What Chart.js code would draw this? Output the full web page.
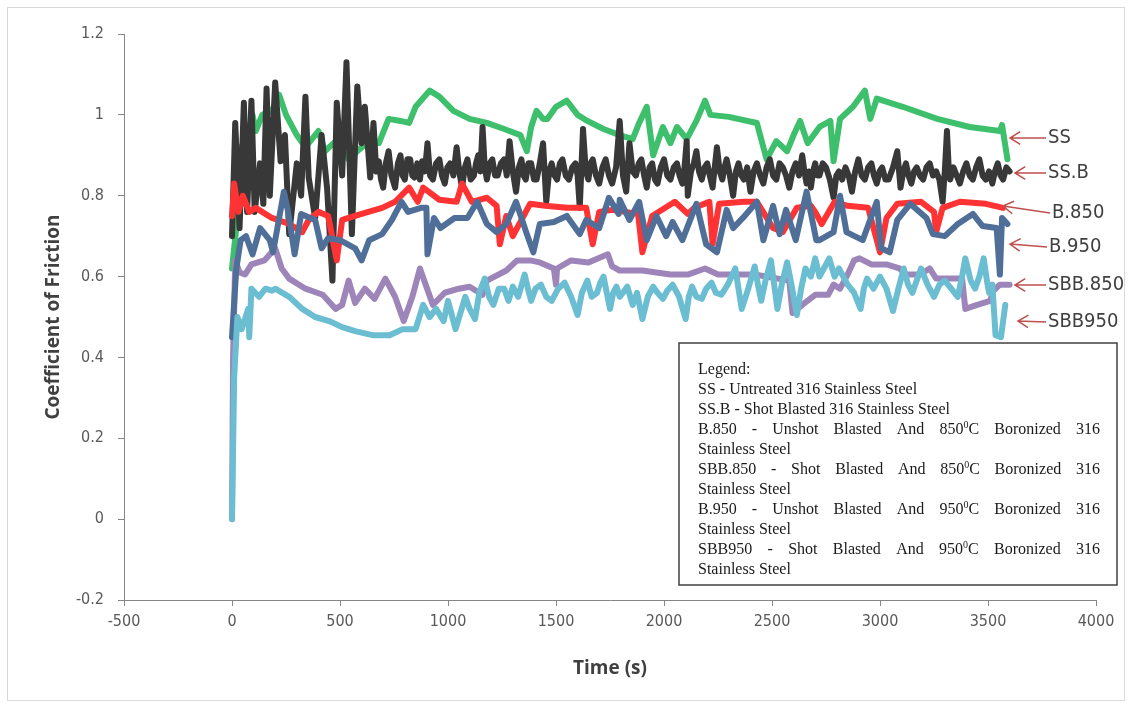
<!DOCTYPE html>
<html>
<head>
<meta charset="utf-8">
<script src="https://cdn.jsdelivr.net/npm/chart.js@4.4.1/dist/chart.umd.min.js"></script>
<style>
  html, body { margin: 0; padding: 0; background: #fff; }
  #wrap { width: 1131px; height: 708px; }
</style>
</head>
<body>
<div id="wrap"><canvas id="myChart" width="1131" height="708"></canvas></div>
<script>
// tiempo (s) y coeficiente de friccion
const tiempoSS = [0,20,35,50,65,80,95,110,140,185,218,250,300,340,370,400,430,470,495,540,580,635,680,725,780,820,850,915,960,1025,1100,1180,1260,1335,1365,1385,1410,1440,1460,1500,1550,1600,1645,1720,1795,1855,1885,1920,1950,1995,2030,2060,2105,2150,2190,2215,2300,2430,2475,2520,2570,2600,2630,2665,2720,2770,2785,2815,2875,2930,2955,2985,3105,3265,3415,3555,3565,3590]
const cofSS = [0.62,0.72,0.92,0.78,0.97,0.85,1.0,0.96,1.0,1.01,1.05,1.0,0.95,0.92,0.94,0.96,0.91,0.93,0.94,0.89,0.91,0.935,0.93,0.99,0.985,0.98,1.02,1.06,1.045,1.01,0.99,0.98,0.965,0.95,0.91,0.97,1.01,0.99,0.99,1.02,1.035,1.0,0.985,0.965,0.95,0.94,0.98,1.02,0.90,0.97,0.93,0.97,0.94,0.985,1.035,1.0,0.995,0.98,0.89,0.935,0.91,0.95,0.985,0.93,0.97,0.985,0.885,0.99,1.02,1.06,0.99,1.04,1.02,0.99,0.97,0.96,0.975,0.89]

const tiempoSSB = [0,15,35,55,70,90,105,130,145,160,175,200,225,245,265,300,320,340,355,385,415,440,465,485,510,530,555,580,600,615,640,655,668,680,690,700,712,725,738,755,768,780,790,800,812,825,835,845,858,870,880,893,905,917,930,945,960,972,985,997,1010,1025,1040,1052,1065,1078,1090,1105,1120,1130,1140,1150,1160,1170,1180,1193,1205,1218,1230,1245,1260,1272,1285,1300,1315,1328,1340,1350,1360,1372,1385,1398,1410,1425,1440,1455,1468,1480,1493,1505,1518,1530,1545,1560,1575,1590,1600,1610,1625,1638,1650,1660,1670,1685,1700,1715,1730,1745,1760,1778,1795,1810,1825,1840,1855,1870,1883,1895,1908,1920,1933,1945,1958,1970,1985,2000,2015,2030,2045,2060,2072,2085,2095,2105,2110,2125,2138,2150,2162,2175,2188,2200,2212,2225,2235,2245,2258,2270,2280,2290,2305,2320,2333,2345,2358,2370,2385,2400,2415,2430,2445,2460,2475,2490,2505,2520,2535,2550,2565,2580,2595,2610,2625,2640,2650,2660,2670,2680,2690,2700,2710,2720,2735,2750,2768,2785,2798,2810,2825,2840,2855,2870,2885,2900,2915,2930,2945,2960,2972,2985,2998,3010,3025,3040,3060,3080,3095,3108,3120,3132,3145,3158,3170,3185,3200,3215,3230,3245,3260,3275,3290,3300,3310,3318,3325,3340,3355,3370,3385,3400,3415,3430,3445,3460,3475,3490,3505,3520,3532,3545,3558,3570,3585,3600]
const cofSSB = [0.70,0.98,0.72,1.03,0.76,1.035,0.76,0.88,0.78,1.065,0.80,1.08,0.885,0.95,0.705,0.88,0.80,1.045,0.845,0.745,0.95,0.82,0.59,1.03,0.85,1.13,0.705,1.07,0.93,1.02,0.845,0.98,0.86,0.885,0.84,0.82,0.88,0.91,0.85,0.82,0.88,0.90,0.85,0.84,0.89,0.89,0.85,0.845,0.88,0.84,0.885,0.86,0.93,0.85,0.84,0.88,0.89,0.85,0.83,0.87,0.88,0.85,0.92,0.86,0.82,0.87,0.89,0.84,0.85,0.88,0.90,0.86,0.97,0.87,0.84,0.88,0.89,0.85,0.85,0.88,0.89,0.85,0.935,0.86,0.81,0.87,0.89,0.85,0.84,0.88,0.88,0.84,0.84,0.88,0.93,0.785,0.86,0.88,0.85,0.84,0.88,0.89,0.85,0.84,0.87,0.88,0.85,0.77,0.965,0.86,0.84,0.88,0.89,0.85,0.83,0.87,0.89,0.85,0.83,0.87,0.985,0.85,0.81,0.93,0.86,0.85,0.88,0.89,0.85,0.82,0.87,0.88,0.84,0.83,0.87,0.89,0.85,0.84,0.87,0.88,0.85,0.83,0.87,0.935,0.80,0.86,0.88,0.91,0.86,0.84,0.87,0.88,0.85,0.82,0.87,0.92,0.86,0.84,0.87,0.89,0.85,0.80,0.86,0.88,0.85,0.84,0.87,0.81,0.86,0.88,0.85,0.83,0.87,0.89,0.85,0.84,0.88,0.87,0.85,0.82,0.86,0.88,0.85,0.90,0.86,0.83,0.86,0.82,0.86,0.88,0.85,0.85,0.88,0.87,0.84,0.795,0.85,0.86,0.84,0.87,0.85,0.81,0.86,0.89,0.85,0.84,0.87,0.88,0.85,0.83,0.86,0.87,0.84,0.84,0.87,0.91,0.82,0.86,0.88,0.85,0.83,0.86,0.87,0.85,0.84,0.87,0.88,0.85,0.86,0.84,0.785,0.86,0.96,0.87,0.84,0.87,0.85,0.83,0.86,0.88,0.85,0.84,0.87,0.89,0.85,0.84,0.86,0.83,0.86,0.88,0.85,0.84,0.87,0.86]

const tiempoB850 = [0,10,30,50,80,110,185,265,325,355,400,445,485,510,600,695,755,820,860,885,960,1040,1065,1110,1180,1225,1240,1270,1300,1380,1450,1550,1640,1670,1700,1760,1880,1900,1945,2050,2110,2140,2210,2225,2255,2370,2430,2505,2550,2615,2680,2700,2730,2790,2850,2945,3000,3030,3080,3190,3250,3260,3290,3370,3490,3570]
const cofB850 = [0.75,0.83,0.76,0.80,0.76,0.77,0.745,0.73,0.71,0.74,0.76,0.75,0.64,0.74,0.755,0.77,0.785,0.82,0.785,0.82,0.79,0.785,0.83,0.785,0.795,0.775,0.68,0.75,0.70,0.78,0.775,0.77,0.77,0.68,0.76,0.765,0.755,0.66,0.75,0.785,0.755,0.77,0.785,0.68,0.78,0.785,0.785,0.72,0.71,0.77,0.775,0.76,0.73,0.785,0.775,0.77,0.66,0.745,0.78,0.785,0.76,0.71,0.77,0.785,0.78,0.77]

const tiempoB950 = [0,20,40,65,95,130,175,190,240,260,290,320,385,415,445,500,570,600,635,695,740,785,815,875,900,905,935,965,1030,1090,1135,1180,1225,1270,1315,1365,1395,1425,1490,1550,1610,1640,1700,1745,1790,1795,1840,1885,1920,1965,2010,2040,2085,2150,2195,2245,2290,2320,2365,2430,2460,2505,2535,2565,2610,2660,2705,2720,2785,2815,2845,2920,2985,3005,3045,3080,3140,3215,3245,3300,3360,3430,3475,3540,3555,3565,3590]
const cofB950 = [0.45,0.62,0.69,0.70,0.655,0.72,0.69,0.66,0.81,0.76,0.655,0.755,0.74,0.67,0.695,0.69,0.67,0.64,0.69,0.705,0.74,0.785,0.76,0.77,0.77,0.655,0.745,0.72,0.745,0.745,0.785,0.73,0.71,0.73,0.785,0.705,0.66,0.73,0.735,0.75,0.705,0.74,0.72,0.795,0.755,0.79,0.74,0.785,0.69,0.75,0.70,0.735,0.69,0.78,0.68,0.66,0.765,0.72,0.745,0.785,0.69,0.775,0.705,0.765,0.69,0.81,0.69,0.69,0.71,0.80,0.71,0.69,0.785,0.67,0.66,0.74,0.78,0.745,0.705,0.70,0.73,0.755,0.725,0.72,0.605,0.745,0.73]

const tiempoSBB850 = [0,5,15,35,60,90,150,200,230,265,340,420,480,510,540,570,615,660,710,755,795,835,870,930,985,1050,1100,1160,1180,1270,1320,1380,1425,1490,1500,1505,1570,1650,1740,1760,1795,1900,2030,2110,2190,2250,2420,2580,2595,2640,2700,2760,2785,2815,2850,2880,2905,2960,3030,3090,3120,3185,3230,3260,3330,3380,3395,3450,3510,3525,3555,3600]
const cofSBB850 = [0.0,0.40,0.64,0.61,0.605,0.63,0.64,0.67,0.62,0.595,0.57,0.555,0.52,0.53,0.59,0.535,0.57,0.545,0.595,0.55,0.49,0.55,0.62,0.53,0.56,0.57,0.575,0.555,0.59,0.615,0.64,0.64,0.635,0.62,0.58,0.62,0.64,0.635,0.655,0.625,0.615,0.615,0.605,0.605,0.62,0.605,0.605,0.59,0.51,0.53,0.555,0.555,0.58,0.57,0.605,0.64,0.645,0.63,0.63,0.62,0.605,0.605,0.62,0.595,0.595,0.595,0.52,0.53,0.54,0.565,0.58,0.58]

const tiempoSBB950 = [0,10,25,45,75,80,90,125,155,185,200,265,325,385,450,510,570,650,730,790,850,885,915,945,980,1000,1035,1080,1100,1125,1145,1170,1190,1210,1235,1260,1280,1300,1325,1355,1370,1385,1405,1430,1455,1480,1510,1540,1570,1600,1620,1645,1665,1690,1705,1720,1735,1750,1765,1780,1795,1810,1830,1855,1875,1900,1925,1950,1970,1995,2015,2040,2070,2100,2115,2130,2150,2175,2195,2220,2240,2265,2295,2330,2345,2360,2390,2420,2435,2450,2470,2495,2510,2525,2545,2570,2590,2615,2635,2655,2680,2700,2720,2740,2765,2790,2810,2830,2850,2880,2910,2925,2940,2970,3000,3030,3060,3085,3110,3130,3150,3170,3190,3220,3250,3275,3300,3330,3360,3380,3395,3420,3440,3460,3480,3495,3505,3520,3535,3560,3580]
const cofSBB950 = [0.0,0.35,0.50,0.47,0.52,0.45,0.57,0.55,0.57,0.565,0.57,0.55,0.52,0.50,0.49,0.475,0.465,0.455,0.455,0.47,0.47,0.53,0.50,0.52,0.49,0.54,0.47,0.55,0.52,0.495,0.56,0.595,0.55,0.53,0.57,0.57,0.54,0.575,0.55,0.605,0.57,0.54,0.57,0.58,0.55,0.54,0.57,0.585,0.55,0.505,0.56,0.59,0.55,0.56,0.585,0.60,0.56,0.52,0.56,0.575,0.55,0.56,0.575,0.53,0.56,0.495,0.55,0.575,0.56,0.545,0.565,0.58,0.55,0.495,0.55,0.575,0.55,0.545,0.57,0.585,0.56,0.555,0.58,0.62,0.57,0.52,0.57,0.625,0.58,0.54,0.59,0.64,0.58,0.52,0.58,0.635,0.58,0.505,0.57,0.62,0.60,0.645,0.60,0.62,0.645,0.60,0.62,0.60,0.58,0.56,0.52,0.57,0.595,0.57,0.60,0.57,0.515,0.57,0.62,0.58,0.56,0.59,0.62,0.58,0.55,0.58,0.59,0.57,0.55,0.60,0.645,0.59,0.57,0.60,0.645,0.59,0.56,0.58,0.455,0.45,0.53]

const etiquetas = ['SS', 'SS.B', 'B.850', 'B.950', 'SBB.850', 'SBB950']
const leyenda = [
  ['Legend:'],
  ['SS - Untreated 316 Stainless Steel'],
  ['SS.B - Shot Blasted 316 Stainless Steel'],
  ['B.850 - Unshot Blasted And 850^0C Boronized 316', true],
  ['Stainless Steel'],
  ['SBB.850 - Shot Blasted And 850^0C Boronized 316', true],
  ['Stainless Steel'],
  ['B.950 - Unshot Blasted And 950^0C Boronized 316', true],
  ['Stainless Steel'],
  ['SBB950 - Shot Blasted And 950^0C Boronized 316', true],
  ['Stainless Steel']
]

function puntos(t, v) {
  return t.map((x, i) => ({ x: x, y: v[i] }))
}

const fuenteEje = "'Liberation Sans Narrow', 'DejaVu Sans Condensed', sans-serif"
const fuenteTitulo = "'Open Sans', 'Liberation Sans', sans-serif"

// flechas rojas con los nombres a la derecha
const flechas = [
  { tip: [1010, 138], tail: [1046, 138] },
  { tip: [1015, 173], tail: [1046, 173] },
  { tip: [1003, 206], tail: [1050, 213] },
  { tip: [1010, 244], tail: [1047, 247] },
  { tip: [1015, 285], tail: [1046, 285] },
  { tip: [1018, 321], tail: [1046, 322] }
]

function medirPalabra(ctx, w) {
  let partes = w.split('^')
  if (partes.length === 1) return ctx.measureText(w).width
  let base = ctx.measureText(partes[0]).width
  let resto = partes[1]
  ctx.save()
  ctx.font = "10px 'Liberation Serif', serif"
  let sup = ctx.measureText(resto[0]).width
  ctx.restore()
  return base + sup + ctx.measureText(resto.slice(1)).width
}

function pintarPalabra(ctx, w, x, y) {
  let partes = w.split('^')
  if (partes.length === 1) { ctx.fillText(w, x, y); return }
  ctx.fillText(partes[0], x, y)
  x += ctx.measureText(partes[0]).width
  let resto = partes[1]
  ctx.save()
  ctx.font = "10px 'Liberation Serif', serif"
  ctx.fillText(resto[0], x, y - 6)
  x += ctx.measureText(resto[0]).width
  ctx.restore()
  ctx.fillText(resto.slice(1), x, y)
}

const extras = {
  id: 'extras',
  afterDraw(chart) {
    const ctx = chart.ctx
    ctx.save()
    // marco exterior
    ctx.strokeStyle = '#d9d9d9'
    ctx.lineWidth = 1
    ctx.strokeRect(7.5, 7.5, 1117, 693)

    // flechas
    ctx.strokeStyle = '#c0504d'
    ctx.lineWidth = 1.5
    ctx.fillStyle = '#404040'
    ctx.font = "20px " + fuenteEje
    ctx.textBaseline = 'middle'
    flechas.forEach((f, i) => {
      const ang = Math.atan2(f.tail[1] - f.tip[1], f.tail[0] - f.tip[0])
      ctx.beginPath()
      ctx.moveTo(f.tail[0], f.tail[1])
      ctx.lineTo(f.tip[0], f.tip[1])
      ctx.moveTo(f.tip[0] + 12 * Math.cos(ang + 0.55), f.tip[1] + 12 * Math.sin(ang + 0.55))
      ctx.lineTo(f.tip[0], f.tip[1])
      ctx.lineTo(f.tip[0] + 12 * Math.cos(ang - 0.55), f.tip[1] + 12 * Math.sin(ang - 0.55))
      ctx.stroke()
      ctx.fillText(etiquetas[i], f.tail[0] + 2, f.tail[1])
    })

    // caja de leyenda
    ctx.fillStyle = '#fff'
    ctx.fillRect(679, 343, 438, 242)
    ctx.strokeStyle = '#404040'
    ctx.lineWidth = 1.5
    ctx.strokeRect(679, 343, 438, 242)
    ctx.fillStyle = '#1a1a1a'
    ctx.font = "16px 'Liberation Serif', serif"
    ctx.textBaseline = 'alphabetic'
    const x0 = 698, x1 = 1100
    leyenda.forEach((linea, i) => {
      const y = 374 + i * 20
      const palabras = linea[0].split(' ')
      if (linea[1]) {
        const anchos = palabras.map(w => medirPalabra(ctx, w))
        const total = anchos.reduce((a, b) => a + b, 0)
        const hueco = (x1 - x0 - total) / (palabras.length - 1)
        let x = x0
        palabras.forEach((w, k) => { pintarPalabra(ctx, w, x, y); x += anchos[k] + hueco })
      } else {
        ctx.fillText(linea[0], x0, y)
      }
    })
    ctx.restore()
  }
}

const series = [
  { label: 'SBB950', data: puntos(tiempoSBB950, cofSBB950), borderColor: '#6bbdd1' },
  { label: 'B.950', data: puntos(tiempoB950, cofB950), borderColor: '#4f6f99' },
  { label: 'SBB.850', data: puntos(tiempoSBB850, cofSBB850), borderColor: '#9d85ba' },
  { label: 'B.850', data: puntos(tiempoB850, cofB850), borderColor: '#ff3333' },
  { label: 'SS.B', data: puntos(tiempoSSB, cofSSB), borderColor: '#383838' },
  { label: 'SS', data: puntos(tiempoSS, cofSS), borderColor: '#3dbf6c' }
]

const config = {
  type: 'line',
  data: { datasets: series },
  options: {
    responsive: false,
    animation: false,
    layout: { padding: { top: 34, right: 35, left: 0, bottom: 0 } },
    plugins: { legend: { display: false }, tooltip: { enabled: false } },
    elements: {
      point: { radius: 0 },
      line: { borderWidth: 6, tension: 0, borderJoinStyle: 'round', borderCapStyle: 'round' }
    },
    scales: {
      x: {
        type: 'linear',
        min: -500,
        max: 4000,
        afterFit: function (s) { s.height = 108 },
        ticks: {
          stepSize: 500,
          autoSkip: false,
          maxRotation: 0,
          padding: 6,
          color: '#595959',
          font: { family: fuenteEje, size: 16 },
          callback: function (value) { return String(value) }
        },
        grid: { drawOnChartArea: false, tickLength: 6, color: '#868686' },
        border: { color: '#868686' },
        title: {
          display: true,
          text: 'Time (s)',
          color: '#404040',
          font: { family: fuenteTitulo, size: 19, weight: 'bold' },
          padding: { top: 0, bottom: 28 }
        }
      },
      y: {
        min: -0.2,
        max: 1.2,
        afterFit: function (s) { s.width = 124 },
        ticks: {
          stepSize: 0.2,
          padding: 14,
          color: '#595959',
          font: { family: fuenteEje, size: 16 },
          callback: function (value) { return String(Math.round(value * 10) / 10) }
        },
        grid: { drawOnChartArea: false, tickLength: 6, color: '#868686' },
        border: { color: '#868686' },
        title: {
          display: true,
          text: 'Coefficient of Friction',
          color: '#404040',
          font: { family: fuenteTitulo, size: 19, weight: 'bold' },
          padding: { top: 42, bottom: 0 }
        }
      }
    }
  },
  plugins: [extras]
}

new Chart(document.getElementById('myChart'), config)
</script>
</body>
</html>
